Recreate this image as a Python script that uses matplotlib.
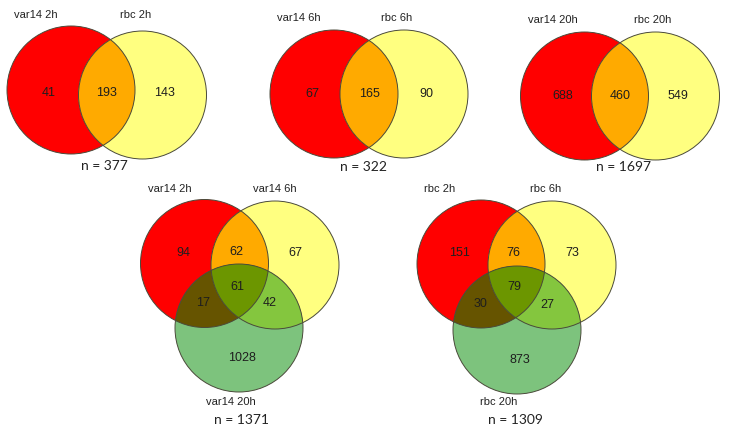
import numpy as np
import matplotlib
matplotlib.use("Agg")
import matplotlib.pyplot as plt
from matplotlib.patches import Circle, Polygon

# two-set diagrams: (left only, both, right only)
pair_labels = [("var14 2h", "rbc 2h"), ("var14 6h", "rbc 6h"), ("var14 20h", "rbc 20h")]
pair_counts = [(41, 193, 143), (67, 165, 90), (688, 460, 549)]
pair_totals = [377, 322, 1697]

# three-set diagrams: (A only, AB, B only, ABC, AC, BC, C only)
triple_labels = [("var14 2h", "var14 6h", "var14 20h"), ("rbc 2h", "rbc 6h", "rbc 20h")]
triple_counts = [(94, 62, 67, 61, 17, 42, 1028), (151, 76, 73, 79, 30, 27, 873)]
triple_totals = [1371, 1309]

RED = "#ff0000"
YELLOW = "#ffff80"
GREEN = "#7dc37d"
ORANGE = "#ffaa00"
RED_GREEN = "#665400"
YEL_GREEN = "#84c63e"
ALL3 = "#6c9600"
EDGE = "#4a4a3a"
LABEL_FONT = ["Liberation Sans", "DejaVu Sans"]
N_FONT = ["Lato", "DejaVu Sans"]


def inter_poly(circs, n=720):
    # convex polygon of the intersection of circles
    pts = []
    t = np.linspace(0, 2 * np.pi, n, endpoint=False)
    for i, (cx, cy, r) in enumerate(circs):
        p = np.c_[cx + r * np.cos(t), cy + r * np.sin(t)]
        ok = np.ones(len(p), bool)
        for j, (ox, oy, orr) in enumerate(circs):
            if j != i:
                ok &= np.hypot(p[:, 0] - ox, p[:, 1] - oy) <= orr + 1e-6
        pts.append(p[ok])
    pts = np.vstack(pts)
    c = pts.mean(axis=0)
    order = np.argsort(np.arctan2(pts[:, 1] - c[1], pts[:, 0] - c[0]))
    return pts[order]


fig = plt.figure(figsize=(7.33, 4.38), dpi=100)
ax = fig.add_axes([0, 0, 1, 1])
ax.set_xlim(0, 733)
ax.set_ylim(438, 0)
ax.axis("off")

num_kw = dict(ha="center", va="center", fontsize=9, color="#1e1e1e", family=LABEL_FONT, zorder=5)
lab_kw = dict(ha="center", va="center", fontsize=8, color="#222222", family=LABEL_FONT, zorder=5)
tot_kw = dict(ha="center", va="center", fontsize=10, color="#222222", family=N_FONT, zorder=5)

# layout of the two-set diagrams
pair_centers = [((71, 90), (142.5, 95)), ((334, 94), (404, 94)), ((584.5, 96), (655.5, 96))]
pair_label_pos = [((36, 15), (136, 15)), ((299, 18), (397, 18)), ((553, 20), (653, 20))]
pair_total_pos = [(104, 166), (364, 167), (623, 167)]
R = 64

for k in range(3):
    (ax1, ay1), (bx1, by1) = pair_centers[k]
    A = (ax1, ay1, R)
    B = (bx1, by1, R)
    ax.add_patch(Circle((ax1, ay1), R, facecolor=RED, edgecolor="none", zorder=1))
    ax.add_patch(Circle((bx1, by1), R, facecolor=YELLOW, edgecolor="none", zorder=1))
    ax.add_patch(Polygon(inter_poly([A, B]), closed=True, facecolor=ORANGE, edgecolor="none", zorder=2))
    for cx, cy, r in (A, B):
        ax.add_patch(Circle((cx, cy), r, facecolor="none", edgecolor=EDGE, lw=0.7, zorder=4))
    a_only, both, b_only = pair_counts[k]
    ymid = (ay1 + by1) / 2
    ax.text(ax1 - 22, ymid, str(a_only), **num_kw)
    ax.text((ax1 + bx1) / 2, ymid, str(both), **num_kw)
    ax.text(bx1 + 22, ymid, str(b_only), **num_kw)
    (l1, l2) = pair_label_pos[k]
    ax.text(*l1, pair_labels[k][0], **lab_kw)
    ax.text(*l2, pair_labels[k][1], **lab_kw)
    ax.text(*pair_total_pos[k], f"n = {pair_totals[k]}", **tot_kw)

# layout of the three-set diagrams
triple_centers = [((204.5, 263.5), (275, 265), (239, 328)),
                  ((481, 264), (552, 265), (517, 330))]
triple_label_pos = [((169.5, 189), (275, 189), (231, 402)),
                    ((440, 189), (546, 189), (499, 402))]
triple_total_pos = [(241, 420), (515, 420)]

for k in range(2):
    (xa, ya), (xb, yb), (xc, yc) = triple_centers[k]
    A, B, C = (xa, ya, R), (xb, yb, R), (xc, yc, R)
    ax.add_patch(Circle((xa, ya), R, facecolor=RED, edgecolor="none", zorder=1))
    ax.add_patch(Circle((xb, yb), R, facecolor=YELLOW, edgecolor="none", zorder=1))
    ax.add_patch(Circle((xc, yc), R, facecolor=GREEN, edgecolor="none", zorder=1))
    ax.add_patch(Polygon(inter_poly([A, B]), closed=True, facecolor=ORANGE, edgecolor="none", zorder=2))
    ax.add_patch(Polygon(inter_poly([A, C]), closed=True, facecolor=RED_GREEN, edgecolor="none", zorder=2))
    ax.add_patch(Polygon(inter_poly([B, C]), closed=True, facecolor=YEL_GREEN, edgecolor="none", zorder=2))
    ax.add_patch(Polygon(inter_poly([A, B, C]), closed=True, facecolor=ALL3, edgecolor="none", zorder=3))
    for cx, cy, r in (A, B, C):
        ax.add_patch(Circle((cx, cy), r, facecolor="none", edgecolor=EDGE, lw=0.7, zorder=4))

    a, ab, b, abc, ac, bc, c = triple_counts[k]
    gx, gy = (xa + xb + xc) / 3, (ya + yb + yc) / 3
    ax.text(xa - 21, ya - 11, str(a), **num_kw)
    ax.text((xa + xb) / 2 - 3, (ya + yb) / 2 - 12, str(ab), **num_kw)
    ax.text(xb + 20, yb - 12, str(b), **num_kw)
    ax.text(gx - 2, gy + 1, str(abc), **num_kw)
    ax.text((xa + xc) / 2 - 19, (ya + yc) / 2 + 7, str(ac), **num_kw)
    ax.text((xb + xc) / 2 + 13, (yb + yc) / 2 + 7, str(bc), **num_kw)
    ax.text(xc + 3, yc + 30, str(c), **num_kw)

    for pos, lab in zip(triple_label_pos[k], triple_labels[k]):
        ax.text(*pos, lab, **lab_kw)
    ax.text(*triple_total_pos[k], f"n = {triple_totals[k]}", **tot_kw)

fig.savefig("out.png", dpi=100, facecolor="white")
